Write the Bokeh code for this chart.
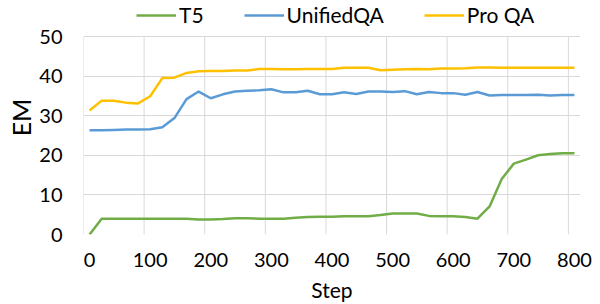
from bokeh.plotting import figure
from bokeh.models import Range1d, FixedTicker, Legend, LegendItem, ColumnDataSource
from bokeh.embed import file_html
from bokeh.resources import INLINE

steps = list(range(0, 820, 20))
t5 = [0.0, 4.0, 4.0, 4.0, 4.0, 4.0, 4.0, 4.0, 4.0, 3.8, 3.8, 3.9, 4.1, 4.1, 4.0, 4.0,
      4.0, 4.2, 4.4, 4.5, 4.5, 4.6, 4.6, 4.6, 4.9, 5.3, 5.3, 5.3, 4.7, 4.6, 4.6, 4.4,
      4.0, 7.1, 14.0, 17.9, 18.9, 20.0, 20.3, 20.5, 20.5]
unifiedqa = [26.3, 26.3, 26.4, 26.5, 26.5, 26.6, 27.1, 29.4, 34.2, 36.1, 34.4, 35.4, 36.1,
             36.3, 36.4, 36.7, 35.9, 35.9, 36.3, 35.4, 35.4, 35.9, 35.5, 36.1, 36.1, 36.0,
             36.2, 35.4, 36.0, 35.7, 35.7, 35.3, 36.0, 35.1, 35.2, 35.2, 35.2, 35.3, 35.1,
             35.2, 35.2]
proqa = [31.3, 33.8, 33.8, 33.3, 33.1, 34.9, 39.5, 39.6, 40.8, 41.2, 41.3, 41.3, 41.4, 41.4,
         41.8, 41.8, 41.7, 41.7, 41.8, 41.8, 41.8, 42.1, 42.1, 42.1, 41.5, 41.6, 41.7, 41.8,
         41.7, 41.9, 41.9, 42.0, 42.2, 42.2, 42.1, 42.1, 42.1, 42.1, 42.1, 42.1, 42.1]
x_ticks = [0, 100, 200, 300, 400, 500, 600, 700, 800]
y_ticks = [0, 10, 20, 30, 40, 50]
series_names = ["T5", "UnifiedQA", "Pro QA"]
colors = ["#70AD47", "#5B9BD5", "#FFC000"]

FONT = "Lato"
GRID = "#D9D9D9"

# plot area 497 x 198 for 0..50; extra headroom above holds the legend
FRAME_W, PLOT_H, TOP_H = 497, 198, 36
y_top = y_ticks[-1] + TOP_H * (y_ticks[-1] - y_ticks[0]) / PLOT_H

p = figure(frame_width=FRAME_W, frame_height=PLOT_H + TOP_H, output_backend="svg",
           toolbar_location=None,
           x_range=Range1d(-10, 810), y_range=Range1d(0, y_top))
p.min_border_left = 83
p.min_border_right = 12
p.min_border_top = 0
p.min_border_bottom = 68
p.outline_line_color = None
p.background_fill_color = "white"
p.border_fill_color = "white"

p.xaxis.ticker = FixedTicker(ticks=x_ticks)
p.yaxis.ticker = FixedTicker(ticks=y_ticks)
p.xgrid.visible = False
p.ygrid.ticker = FixedTicker(ticks=y_ticks)
p.ygrid.grid_line_color = GRID
p.ygrid.grid_line_width = 1

# vertical gridlines between category groups, only over the 0..50 plot area
gx = [t - 10 for t in x_ticks]
p.segment(x0=gx, y0=[y_ticks[0]] * len(gx), x1=gx, y1=[y_ticks[-1]] * len(gx),
          line_color=GRID, line_width=1)

for ax in (p.xaxis, p.yaxis):
    ax.axis_line_color = None
    ax.major_tick_line_color = None
    ax.minor_tick_line_color = None
    ax.major_tick_out = 0
    ax.major_tick_in = 0
    ax.major_label_text_font = FONT
    ax.major_label_text_font_size = "20px"
    ax.major_label_text_color = "#000000"
    ax.axis_label_text_font = FONT
    ax.axis_label_text_font_style = "normal"
    ax.axis_label_text_color = "#000000"

p.xaxis.axis_label = "Step"
p.xaxis.axis_label_text_font_size = "21px"
p.xaxis.major_label_standoff = 18
p.xaxis.axis_label_standoff = 7
p.yaxis.axis_label = "EM"
p.yaxis.axis_label_text_font_size = "25px"
p.yaxis.major_label_standoff = 21
p.yaxis.axis_label_standoff = 0

src = ColumnDataSource(dict(step=steps, t5=t5, uqa=unifiedqa, pqa=proqa))
renderers = []
for col, c in zip(["t5", "uqa", "pqa"], colors):
    r = p.line("step", col, source=src, line_color=c, line_width=2.5, line_join="round")
    renderers.append(r)

legend = Legend(items=[LegendItem(label=n, renderers=[r]) for n, r in zip(series_names, renderers)],
                orientation="horizontal", location=(53, 207))
legend.label_text_font = FONT
legend.label_text_font_size = "21px"
legend.label_text_color = "#000000"
legend.label_height = 24
legend.glyph_height = 24
legend.glyph_width = 40
legend.label_standoff = 3
legend.spacing = 40
legend.padding = 0
legend.margin = 0
legend.border_line_color = None
legend.background_fill_alpha = 0
p.add_layout(legend, "center")

open("out.html", "w").write(file_html(p, INLINE))
